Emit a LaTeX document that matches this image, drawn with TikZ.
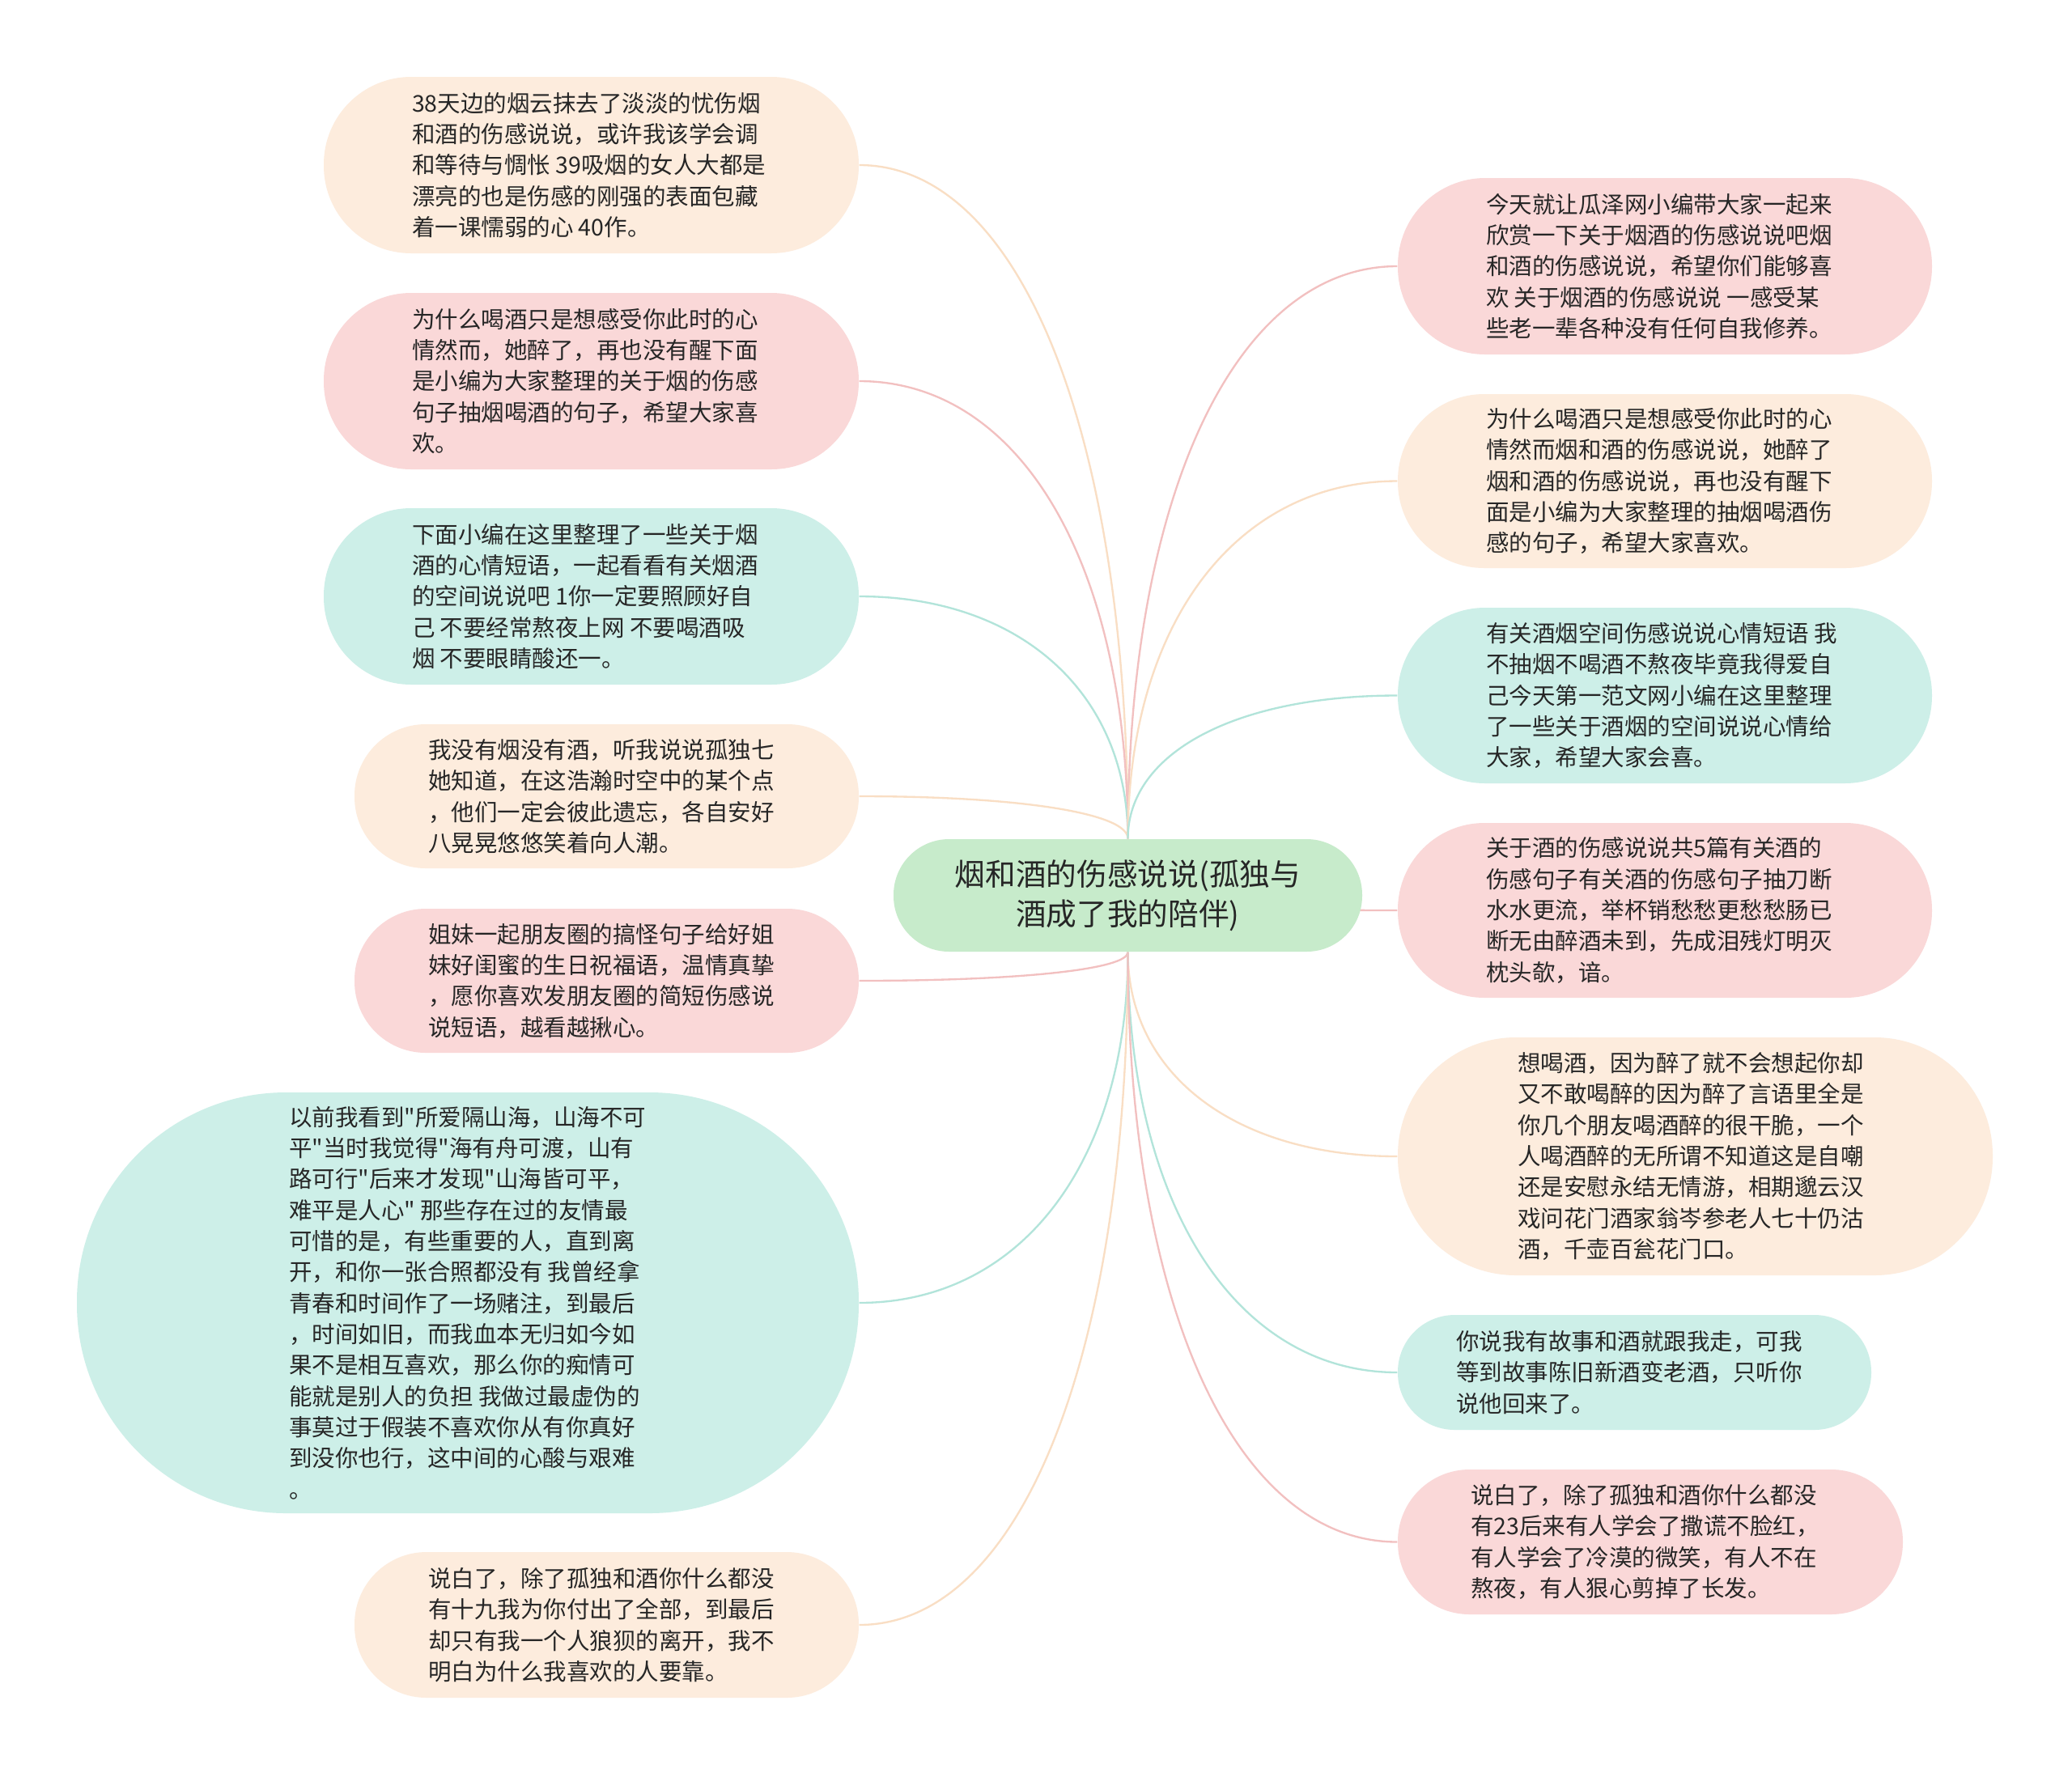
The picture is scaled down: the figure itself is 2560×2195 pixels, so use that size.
\documentclass[tikz,border=0pt]{standalone}
\usepackage{fontspec}
\newfontfamily\cjk{Noto Sans CJK SC}
\usetikzlibrary{backgrounds,calc}
\definecolor{bpeach}{RGB}{253,236,221}
\definecolor{bpink}{RGB}{250,216,216}
\definecolor{bmint}{RGB}{205,239,232}
\definecolor{bctr}{RGB}{199,235,203}
\definecolor{lpeach}{RGB}{249,222,196}
\definecolor{lpink}{RGB}{242,192,192}
\definecolor{lmint}{RGB}{178,228,218}
\definecolor{txt}{RGB}{38,38,38}
\tikzset{
  shp/.style={draw=none, inner sep=0pt},
  bub/.style={draw=none, align=left, inner sep=0pt, text=txt, anchor=west,
    font=\cjk\fontsize{8.55pt}{11.5pt}\selectfont},
  hub/.style={draw=none, align=center, inner sep=0pt, text=txt, fill=bctr,
    font=\cjk\fontsize{11.3pt}{14.7pt}\selectfont},
  cpeach/.style={draw=lpeach, line width=0.7pt},
  cpink/.style={draw=lpink, line width=0.7pt},
  cmint/.style={draw=lmint, line width=0.7pt},
}
\newcommand\mmlink[3]{\draw[#1] (#2) .. controls ($(#2)!0.6!(#3 |- #2)$) and ($(#3 |- #2)!0.4!(#3)$) .. (#3);}
\begin{document}
\begin{tikzpicture}[x=0.3pt, y=-0.3pt]
\useasboundingbox (0,0) rectangle (2560,2195);

% centre
\node[hub, minimum width=173.7pt, minimum height=41.7pt, rounded corners=20.6pt] (C) at (1393.5,1106.5)
 {烟和酒的伤感说说(孤独与\\酒成了我的陪伴)};

% left branch
\node[shp, fill=bpeach, minimum width=198.3pt, minimum height=65.4pt, rounded corners=32.4pt] (L1) at (730.5,204) {};
\node[bub] (L1t) at ([xshift=32.7pt]L1.west)
 {38天边的烟云抹去了淡淡的忧伤烟\\%
和酒的伤感说说，或许我该学会调\\%
和等待与惆怅 39吸烟的女人大都是\\%
漂亮的也是伤感的刚强的表面包藏\\%
着一课懦弱的心 40作。};

\node[shp, fill=bpink, minimum width=198.3pt, minimum height=65.4pt, rounded corners=32.4pt] (L2) at (730.5,471) {};
\node[bub] (L2t) at ([xshift=32.7pt]L2.west)
 {为什么喝酒只是想感受你此时的心\\%
情然而，她醉了，再也没有醒下面\\%
是小编为大家整理的关于烟的伤感\\%
句子抽烟喝酒的句子，希望大家喜\\%
欢。};

\node[shp, fill=bmint, minimum width=198.3pt, minimum height=65.4pt, rounded corners=32.4pt] (L3) at (730.5,737) {};
\node[bub] (L3t) at ([xshift=32.7pt]L3.west)
 {下面小编在这里整理了一些关于烟\\%
酒的心情短语，一起看看有关烟酒\\%
的空间说说吧 1你一定要照顾好自\\%
己 不要经常熬夜上网 不要喝酒吸\\%
烟 不要眼睛酸还一。};

\node[shp, fill=bpeach, minimum width=186.9pt, minimum height=53.4pt, rounded corners=26.4pt] (L4) at (749.5,984) {};
\node[bub] (L4t) at ([xshift=27.3pt]L4.west)
 {我没有烟没有酒，听我说说孤独七\\%
她知道，在这浩瀚时空中的某个点\\%
，他们一定会彼此遗忘，各自安好\\%
八晃晃悠悠笑着向人潮。};

\node[shp, fill=bpink, minimum width=186.9pt, minimum height=53.4pt, rounded corners=26.4pt] (L5) at (749.5,1212) {};
\node[bub] (L5t) at ([xshift=27.3pt]L5.west)
 {姐妹一起朋友圈的搞怪句子给好姐\\%
妹好闺蜜的生日祝福语，温情真挚\\%
，愿你喜欢发朋友圈的简短伤感说\\%
说短语，越看越揪心。};

\node[shp, fill=bmint, minimum width=289.8pt, minimum height=156pt, rounded corners=77.5pt] (L6) at (578,1610) {};
\node[bub] (L6t) at ([xshift=78.6pt]L6.west)
 {以前我看到"所爱隔山海，山海不可\\%
平"当时我觉得"海有舟可渡，山有\\%
路可行"后来才发现"山海皆可平，\\%
难平是人心" 那些存在过的友情最\\%
可惜的是，有些重要的人，直到离\\%
开，和你一张合照都没有 我曾经拿\\%
青春和时间作了一场赌注，到最后\\%
，时间如旧，而我血本无归如今如\\%
果不是相互喜欢，那么你的痴情可\\%
能就是别人的负担 我做过最虚伪的\\%
事莫过于假装不喜欢你从有你真好\\%
到没你也行，这中间的心酸与艰难\\%
。};

\node[shp, fill=bpeach, minimum width=186.9pt, minimum height=54pt, rounded corners=26.7pt] (L7) at (749.5,2008) {};
\node[bub] (L7t) at ([xshift=27.3pt]L7.west)
 {说白了，除了孤独和酒你什么都没\\%
有十九我为你付出了全部，到最后\\%
却只有我一个人狼狈的离开，我不\\%
明白为什么我喜欢的人要靠。};

% right branch
\node[shp, fill=bpink, minimum width=198pt, minimum height=65.4pt, rounded corners=32.4pt] (R1) at (2057,329) {};
\node[bub] (R1t) at ([xshift=32.7pt]R1.west)
 {今天就让瓜泽网小编带大家一起来\\%
欣赏一下关于烟酒的伤感说说吧烟\\%
和酒的伤感说说，希望你们能够喜\\%
欢 关于烟酒的伤感说说 一感受某\\%
些老一辈各种没有任何自我修养。};

\node[shp, fill=bpeach, minimum width=198pt, minimum height=64.5pt, rounded corners=32pt] (R2) at (2057,594.5) {};
\node[bub] (R2t) at ([xshift=32.7pt]R2.west)
 {为什么喝酒只是想感受你此时的心\\%
情然而烟和酒的伤感说说，她醉了\\%
烟和酒的伤感说说，再也没有醒下\\%
面是小编为大家整理的抽烟喝酒伤\\%
感的句子，希望大家喜欢。};

\node[shp, fill=bmint, minimum width=198pt, minimum height=65.1pt, rounded corners=32.3pt] (R3) at (2057,859.5) {};
\node[bub] (R3t) at ([xshift=32.7pt]R3.west)
 {有关酒烟空间伤感说说心情短语 我\\%
不抽烟不喝酒不熬夜毕竟我得爱自\\%
己今天第一范文网小编在这里整理\\%
了一些关于酒烟的空间说说心情给\\%
大家，希望大家会喜。};

\node[shp, fill=bpink, minimum width=198pt, minimum height=64.8pt, rounded corners=32.1pt] (R4) at (2057,1125) {};
\node[bub] (R4t) at ([xshift=32.7pt]R4.west)
 {关于酒的伤感说说共5篇有关酒的\\%
伤感句子有关酒的伤感句子抽刀断\\%
水水更流，举杯销愁愁更愁愁肠已\\%
断无由醉酒未到，先成泪残灯明灭\\%
枕头欹，谙。};

\node[shp, fill=bpeach, minimum width=220.5pt, minimum height=88.2pt, rounded corners=43.8pt] (R5) at (2094.5,1429) {};
\node[bub] (R5t) at ([xshift=44.4pt]R5.west)
 {想喝酒，因为醉了就不会想起你却\\%
又不敢喝醉的因为醉了言语里全是\\%
你几个朋友喝酒醉的很干脆，一个\\%
人喝酒醉的无所谓不知道这是自嘲\\%
还是安慰永结无情游，相期邈云汉\\%
戏问花门酒家翁岑参老人七十仍沽\\%
酒，千壶百瓮花门口。};

\node[shp, fill=bmint, minimum width=175.5pt, minimum height=42.6pt, rounded corners=21.1pt] (R6) at (2019.5,1696) {};
\node[bub] (R6t) at ([xshift=21.6pt]R6.west)
 {你说我有故事和酒就跟我走，可我\\%
等到故事陈旧新酒变老酒，只听你\\%
说他回来了。};

\node[shp, fill=bpink, minimum width=187.2pt, minimum height=53.7pt, rounded corners=26.6pt] (R7) at (2039,1905.5) {};
\node[bub] (R7t) at ([xshift=27pt]R7.west)
 {说白了，除了孤独和酒你什么都没\\%
有23后来有人学会了撒谎不脸红，\\%
有人学会了冷漠的微笑，有人不在\\%
熬夜，有人狠心剪掉了长发。};

\begin{pgfonlayer}{background}
\fill[white] (0,0) rectangle (2560,2195);
\mmlink{cpeach}{L1.east}{C.north}
\mmlink{cpink}{L2.east}{C.north}
\mmlink{cmint}{L3.east}{C.north}
\mmlink{cpeach}{L4.east}{C.north}
\mmlink{cpink}{L5.east}{C.south}
\mmlink{cmint}{L6.east}{C.south}
\mmlink{cpeach}{L7.east}{C.south}
\mmlink{cpink}{R1.west}{C.north}
\mmlink{cpeach}{R2.west}{C.north}
\mmlink{cmint}{R3.west}{C.north}
\mmlink{cpink}{R4.west}{C.center}
\mmlink{cpeach}{R5.west}{C.south}
\mmlink{cmint}{R6.west}{C.south}
\mmlink{cpink}{R7.west}{C.south}
\end{pgfonlayer}
\end{tikzpicture}
\end{document}
